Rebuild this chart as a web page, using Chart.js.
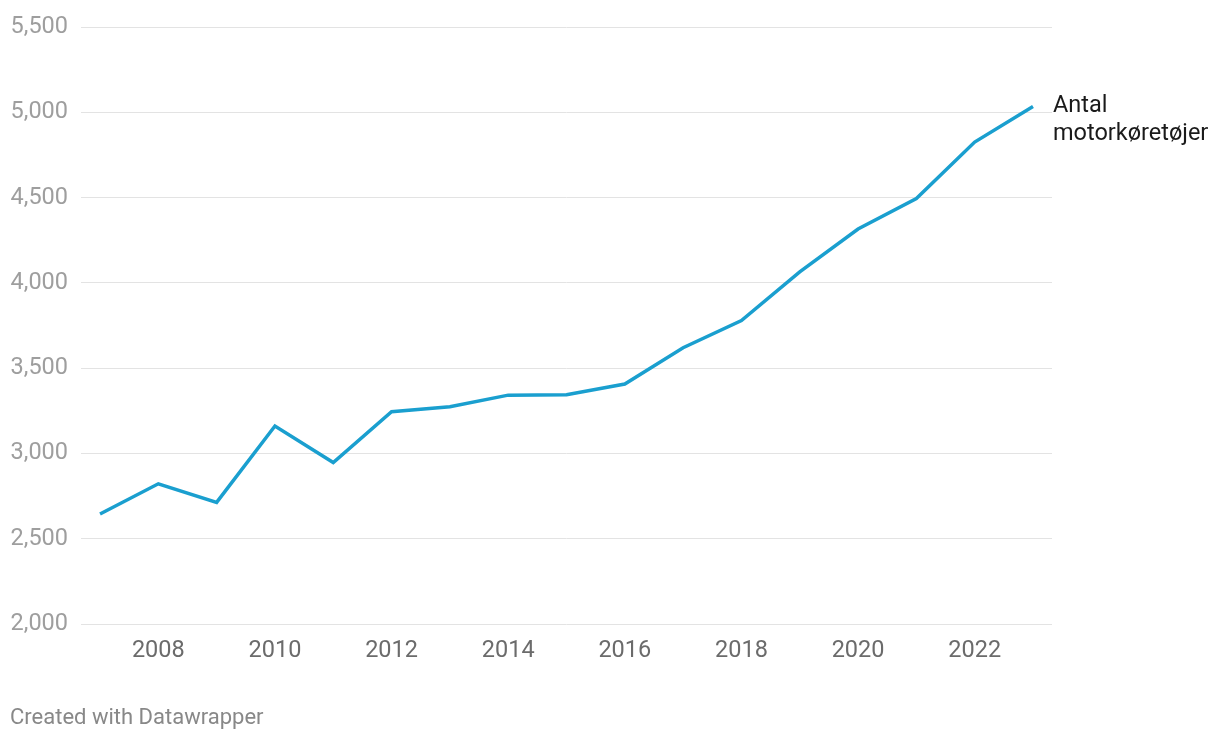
<!DOCTYPE html>
<html>
<head>
<meta charset="utf-8">
<script src="https://cdn.jsdelivr.net/npm/chart.js@4/dist/chart.umd.min.js"></script>
<style>
html,body{margin:0;padding:0;background:#fff;}
#wrap{position:relative;width:1220px;height:740px;}
#footer{position:absolute;left:10px;top:703px;font-family:Roboto,sans-serif;font-size:22px;color:#888;line-height:28px;}
</style>
</head>
<body>
<div id="wrap">
<canvas id="c" width="1220" height="740"></canvas>
<div id="footer">Created with Datawrapper</div>
</div>
<script>
const years = [2007,2008,2009,2010,2011,2012,2013,2014,2015,2016,2017,2018,2019,2020,2021,2022,2023];
const vehicles = [2645,2822,2713,3161,2947,3245,3274,3342,3344,3407,3620,3779,4065,4316,4495,4826,5034];
const seriesLabel = ['Antal', 'motorkøretøjer'];
const xTicks = [2008,2010,2012,2014,2016,2018,2020,2022];
const yTicks = [2000,2500,3000,3500,4000,4500,5000,5500];

const endLabel = {
  id: 'endLabel',
  afterDatasetsDraw(chart) {
    const meta = chart.getDatasetMeta(0);
    const pt = meta.data[meta.data.length - 1];
    const ctx = chart.ctx;
    ctx.save();
    ctx.font = '23.5px Roboto, sans-serif';
    ctx.fillStyle = '#1a1a1a';
    ctx.textAlign = 'left';
    ctx.textBaseline = 'middle';
    ctx.fillText(seriesLabel[0], pt.x + 20, pt.y);
    ctx.fillText(seriesLabel[1], pt.x + 20, pt.y + 28);
    ctx.restore();
  }
};

new Chart(document.getElementById('c'), {
  type: 'line',
  data: {
    datasets: [{
      data: years.map((y, i) => ({x: y, y: vehicles[i]})),
      borderColor: '#1a9fcf',
      borderWidth: 3.5,
      pointRadius: 0,
      tension: 0,
      fill: false
    }]
  },
  options: {
    responsive: false,
    animation: false,
    devicePixelRatio: 1,
    layout: { padding: { left: 0, right: 168, top: 23, bottom: 0 } },
    plugins: { legend: { display: false }, tooltip: { enabled: false } },
    scales: {
      x: {
        type: 'linear',
        min: 2006.674,
        max: 2023.326,
        afterBuildTicks(scale) { scale.ticks = xTicks.map(v => ({value: v})); },
        afterFit(scale) { scale.height = 116; },
        grid: { display: false, drawTicks: false },
        border: { display: false },
        ticks: {
          padding: 13,
          color: '#6b6b6b',
          font: { family: 'Roboto', size: 23.5 },
          callback: v => String(v),
          maxRotation: 0
        }
      },
      y: {
        min: 2000,
        max: 5500,
        afterBuildTicks(scale) { scale.ticks = yTicks.map(v => ({value: v})); },
        afterFit(scale) { scale.width = 81; },
        grid: { color: '#e3e3e3', lineWidth: 1, drawTicks: false },
        border: { display: false },
        ticks: {
          padding: 13,
          color: '#9e9e9e',
          font: { family: 'Roboto', size: 23.5 },
          callback: v => v.toLocaleString('en-US')
        }
      }
    }
  },
  plugins: [endLabel]
});
</script>
</body>
</html>
